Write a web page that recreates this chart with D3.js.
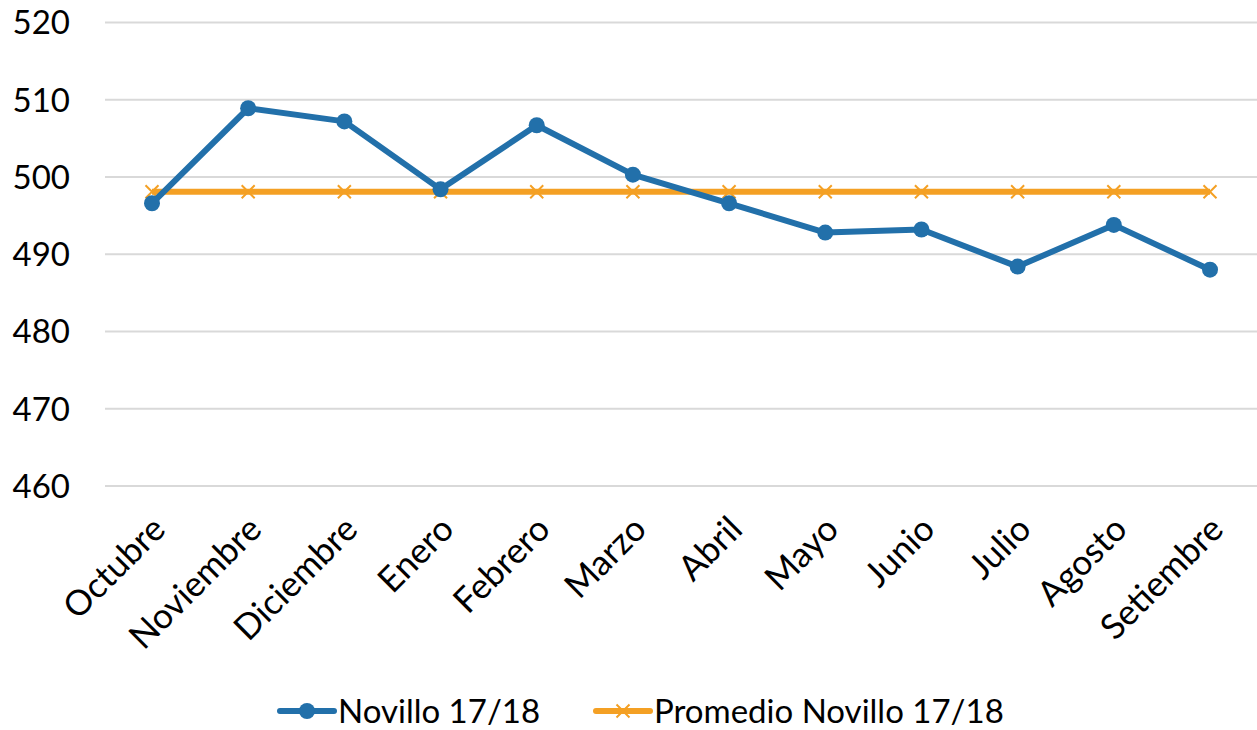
<!DOCTYPE html>
<html>
<head>
<meta charset="utf-8">
<script src="https://cdn.jsdelivr.net/npm/d3@7"></script>
<style>
  body { margin: 0; background: #fff; }
  text { font-family: Lato, "Open Sans", sans-serif; fill: #000; }
</style>
</head>
<body>
<div></div>
<script>
var months = ['Octubre', 'Noviembre', 'Diciembre', 'Enero', 'Febrero', 'Marzo',
    'Abril', 'Mayo', 'Junio', 'Julio', 'Agosto', 'Setiembre'];
var novillo = [496.6, 508.9, 507.2, 498.4, 506.7, 500.3, 496.6, 492.8, 493.2, 488.4, 493.8, 488.0];
var promedio = [498.1, 498.1, 498.1, 498.1, 498.1, 498.1, 498.1, 498.1, 498.1, 498.1, 498.1, 498.1];
var yTicks = [460, 470, 480, 490, 500, 510, 520];
var seriesNames = ['Novillo 17/18', 'Promedio Novillo 17/18'];

var width = 1257;
var height = 730;
var blue = '#2270aa';
var orange = '#f4a024';

var svg = d3.select('div')
    .append('svg')
    .attr('width', width)
    .attr('height', height);

var x = d3.scalePoint()
    .domain(months)
    .range([152, 1210]);

var y = d3.scaleLinear()
    .domain([460, 520])
    .range([486, 22.5]);

// gridlines
svg.append('g')
    .selectAll('line')
    .data(yTicks)
    .enter()
    .append('line')
    .attr('x1', 105)
    .attr('x2', width)
    .attr('y1', d => y(d))
    .attr('y2', d => y(d))
    .attr('stroke', '#d9d9d9')
    .attr('stroke-width', 2);

// y labels
svg.append('g')
    .selectAll('text')
    .data(yTicks)
    .enter()
    .append('text')
    .attr('x', 70)
    .attr('y', d => y(d))
    .attr('dy', '0.36em')
    .attr('text-anchor', 'end')
    .attr('font-size', 33)
    .text(d => d);

// x labels, rotated
svg.append('g')
    .selectAll('text')
    .data(months)
    .enter()
    .append('text')
    .attr('transform', d => 'translate(' + (x(d) - 2) + ',514) rotate(-45)')
    .attr('text-anchor', 'end')
    .attr('dy', '0.7em')
    .attr('font-size', 35)
    .text(d => d);

var line = d3.line()
    .x((d, i) => x(months[i]))
    .y(d => y(d));

// average line
svg.append('path')
    .datum(promedio)
    .attr('d', line)
    .attr('fill', 'none')
    .attr('stroke', orange)
    .attr('stroke-width', 6);

var xSize = 6.5;
svg.append('g')
    .selectAll('path')
    .data(promedio)
    .enter()
    .append('path')
    .attr('d', (d, i) => {
        var cx = x(months[i]), cy = y(d);
        return 'M' + (cx - xSize) + ',' + (cy - xSize) + 'L' + (cx + xSize) + ',' + (cy + xSize) +
            'M' + (cx - xSize) + ',' + (cy + xSize) + 'L' + (cx + xSize) + ',' + (cy - xSize);
    })
    .attr('stroke', orange)
    .attr('stroke-width', 2);

// main series
svg.append('path')
    .datum(novillo)
    .attr('d', line)
    .attr('fill', 'none')
    .attr('stroke', blue)
    .attr('stroke-width', 6)
    .attr('stroke-linejoin', 'round');

svg.append('g')
    .selectAll('circle')
    .data(novillo)
    .enter()
    .append('circle')
    .attr('cx', (d, i) => x(months[i]))
    .attr('cy', d => y(d))
    .attr('r', 8)
    .attr('fill', blue);

// legend
var legend = svg.append('g');
var legendX = [280, 596];
seriesNames.forEach(function(name, i) {
    var lx = legendX[i];
    var col = i === 0 ? blue : orange;
    legend.append('line')
        .attr('x1', lx).attr('x2', lx + 54)
        .attr('y1', 711).attr('y2', 711)
        .attr('stroke', col)
        .attr('stroke-width', 6)
        .attr('stroke-linecap', 'round');
    if (i === 0) {
        legend.append('circle')
            .attr('cx', lx + 27).attr('cy', 711)
            .attr('r', 8).attr('fill', col);
    } else {
        var cx = lx + 27, cy = 711;
        legend.append('path')
            .attr('d', 'M' + (cx - xSize) + ',' + (cy - xSize) + 'L' + (cx + xSize) + ',' + (cy + xSize) +
                'M' + (cx - xSize) + ',' + (cy + xSize) + 'L' + (cx + xSize) + ',' + (cy - xSize))
            .attr('stroke', col)
            .attr('stroke-width', 2);
    }
    legend.append('text')
        .attr('x', lx + 58)
        .attr('y', 711)
        .attr('dy', '0.36em')
        .attr('font-size', 33)
        .text(name);
});
</script>
</body>
</html>
